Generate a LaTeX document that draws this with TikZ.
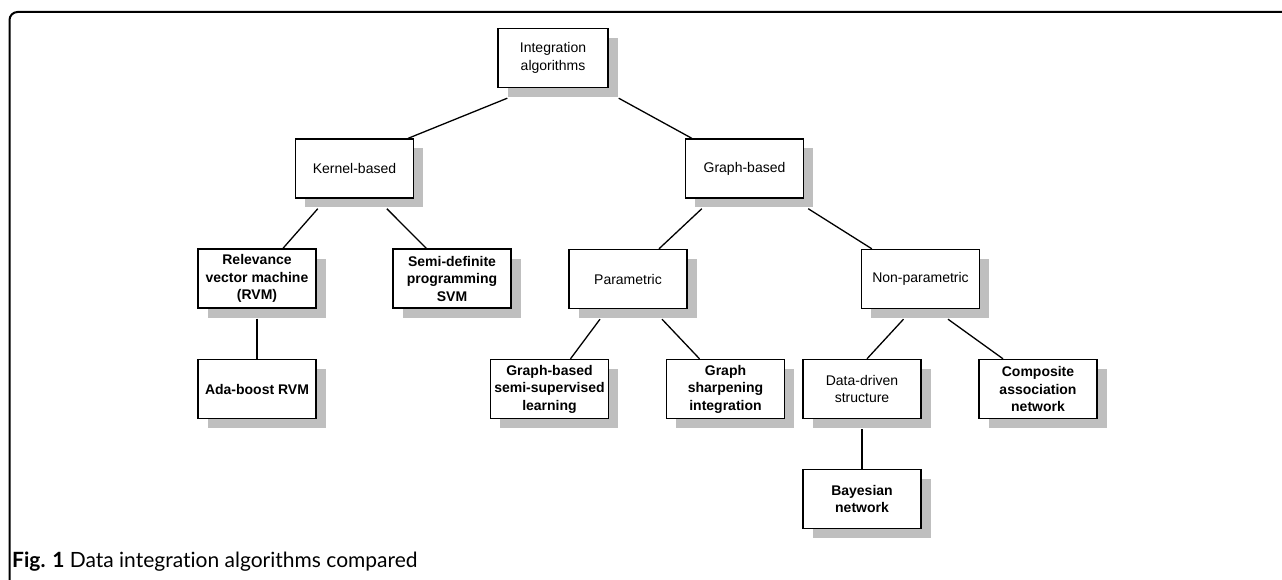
\documentclass[tikz,border=0pt]{standalone}
\usepackage{fontspec}
\setmainfont{Liberation Sans}
\newfontfamily\capfont[Ligatures=NoCommon]{Lato}
\usetikzlibrary{calc,shadows}

\tikzset{
  box/.style={draw, line width=1.4pt, fill=white, minimum width=118pt, minimum height=59pt,
    inner sep=0pt, align=center, font=\fontsize{14}{17.5}\selectfont,
    drop shadow={shadow xshift=9.5pt, shadow yshift=-9.5pt, fill=black!25, opacity=1}},
  leaf/.style={box, font=\fontsize{14}{17.5}\selectfont\bfseries},
  link/.style={line width=1.3pt},
}

\begin{document}
\begin{tikzpicture}[x=1pt, y=-1pt]
    \useasboundingbox (0,0) rectangle (1282,580);

    % 外框
    \draw[line width=2pt, rounded corners=8pt] (9.5,580) -- (9.5,12) -- (1282,12);

    % 第一、二层
    \node[box, minimum width=110pt] (integ) at (553,58) {Integration\\algorithms};
    \node[box] (kernel) at (354.5,168.5) {Kernel-based};
    \node[box] (graph) at (744.5,168.5) {Graph-based};

    % 核方法分支
    \node[leaf] (rvm) at (257,278.5) {Relevance\\vector machine\\(RVM)};
    \node[leaf] (sdp) at (452,278.5) {Semi-definite\\programming\\SVM};
    \node[leaf] (ada) at (257,389) {Ada-boost RVM};

    % 图方法分支
    \node[box] (param) at (628,279) {Parametric};
    \node[box] (nonpar) at (920.5,279) {Non-parametric};
    \node[leaf] (gssl) at (549.5,389) {Graph-based\\semi-supervised\\learning};
    \node[leaf] (gsi) at (725.5,389) {Graph\\sharpening\\integration};
    \node[box] (dds) at (862,389) {Data-driven\\structure};
    \node[leaf] (can) at (1038,389) {Composite\\association\\network};
    \node[leaf] (bayes) at (862,499) {Bayesian\\network};

    % 连线
    \draw[link] ($(integ.south west)+(10,10)$) -- ($(kernel.north east)+(-6,0)$);
    \draw[link] ($(integ.south east)+(10,10)$) -- ($(graph.north west)+(7,0)$);
    \draw[link] ($(kernel.south west)+(23,10)$) -- ($(rvm.north)+(26,0)$);
    \draw[link] ($(kernel.south west)+(92,10)$) -- ($(sdp.north west)+(34,0)$);
    \draw[link] ($(rvm.south)+(0,10)$) -- (ada.north);
    \draw[link] ($(graph.south west)+(17,10)$) -- ($(param.north)+(31,0)$);
    \draw[link] ($(graph.south east)+(4,10)$) -- ($(nonpar.north west)+(11,0)$);
    \draw[link] ($(param.south)+(-28,10)$) -- ($(gssl.north)+(21,0)$);
    \draw[link] ($(param.south)+(34,10)$) -- ($(gsi.north)+(-26,0)$);
    \draw[link] ($(nonpar.south)+(-17,10)$) -- ($(dds.north)+(5,0)$);
    \draw[link] ($(nonpar.south)+(27.5,10)$) -- ($(can.north)+(-35,0)$);
    \draw[link] ($(dds.south)+(0,10)$) -- (bayes.north);

    % 图注
    \node[anchor=base west, inner sep=0pt, font=\capfont\fontsize{21}{24}\selectfont] (cap) at (12,567)
        {\textbf{Fig. 1} Data integration algorithms compared};
\end{tikzpicture}
\end{document}
